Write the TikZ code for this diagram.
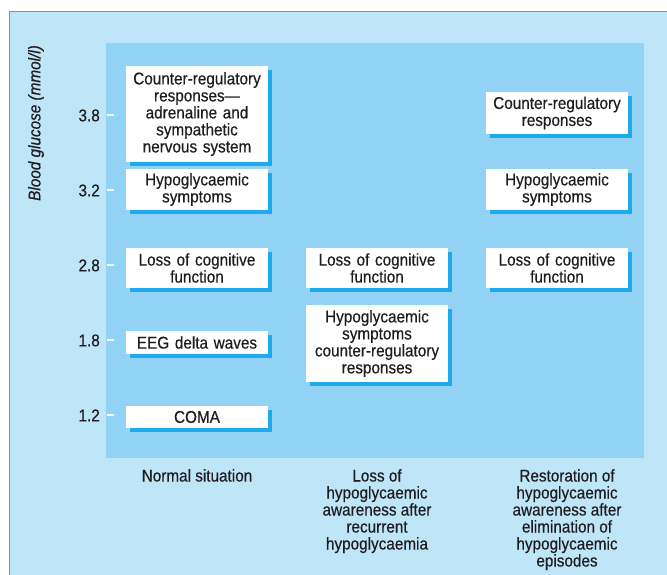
\documentclass[tikz,border=0pt]{standalone}
\usepackage{fontspec}
\setmainfont{Liberation Sans}[FakeStretch=0.9, FakeBold=0.35]
\usetikzlibrary{shadows}
\definecolor{outerbg}{HTML}{BEE5F8}
\definecolor{innerbg}{HTML}{92D3F5}
\definecolor{edgeblue}{HTML}{3FA9E6}
\definecolor{shadowblue}{HTML}{1DA9EC}
\definecolor{ink}{HTML}{1E1C1D}
\begin{document}
\begin{tikzpicture}[x=1pt,y=-1pt,
  font=\fontsize{17}{17}\selectfont, text=ink,
  wbox/.style={fill=white, align=center, text width=140pt, inner xsep=1pt, inner ysep=0pt,
    minimum width=142pt,
    drop shadow={shadow xshift=4pt, shadow yshift=-4pt, fill=shadowblue, opacity=1}},
  collabel/.style={anchor=north, align=center, inner sep=0pt},
  ticklabel/.style={anchor=base east, inner sep=0pt},
  tickmark/.style={draw=white, line width=1.5pt}]
\useasboundingbox (0,0) rectangle (667,575);
% outer frame
\fill[outerbg] (9,12) rectangle (667,575);
\draw[edgeblue, line width=1pt] (9,575) -- (9,12) -- (667,12);
% inner panel
\fill[innerbg] (106,43) rectangle (644,458);
% axis label
\node[rotate=90, inner sep=0pt, font=\fontsize{17}{17}\selectfont\itshape] (ylab) at (36,123) {Blood glucose (mmol/l)};
% ticks
\foreach \v/\y [count=\i] in {3.8/115, 3.2/190, 2.8/265, 1.8/340, 1.2/415}{
  \node[ticklabel] (t\i) at (100,\y+6.3) {\v};
  \coordinate (ta\i) at (107,\y);
  \coordinate (tb\i) at (114,\y);
  \draw[tickmark] (ta\i) -- (tb\i);
}
% column 1
\node[wbox, minimum height=96pt] (c1a) at (197,114) {Counter-regulatory\\responses---\\adrenaline and\\sympathetic\\nervous system};
\node[wbox, minimum height=41pt] (c1b) at (197,189.5) {Hypoglycaemic\\symptoms};
\node[wbox, minimum height=40pt] (c1c) at (197,268) {Loss of cognitive\\function};
\node[wbox, minimum height=23pt] (c1d) at (197,342.5) {EEG delta waves};
\node[wbox, minimum height=22pt] (c1e) at (197,417) {COMA};
% column 2
\node[wbox, minimum height=40pt] (c2a) at (377,268) {Loss of cognitive\\function};
\node[wbox, minimum height=77pt] (c2b) at (377,343.5) {Hypoglycaemic\\symptoms\\counter-regulatory\\responses};
% column 3
\node[wbox, minimum height=42pt] (c3a) at (557,113) {Counter-regulatory\\responses};
\node[wbox, minimum height=41pt] (c3b) at (557,189.5) {Hypoglycaemic\\symptoms};
\node[wbox, minimum height=40pt] (c3c) at (557,268) {Loss of cognitive\\function};
% column labels
\node[collabel] (l1) at (197,469) {Normal situation};
\node[collabel] (l2) at (377,469) {Loss of\\hypoglycaemic\\awareness after\\recurrent\\hypoglycaemia};
\node[collabel] (l3) at (567,469) {Restoration of\\hypoglycaemic\\awareness after\\elimination of\\hypoglycaemic\\episodes};
\end{tikzpicture}
\end{document}
